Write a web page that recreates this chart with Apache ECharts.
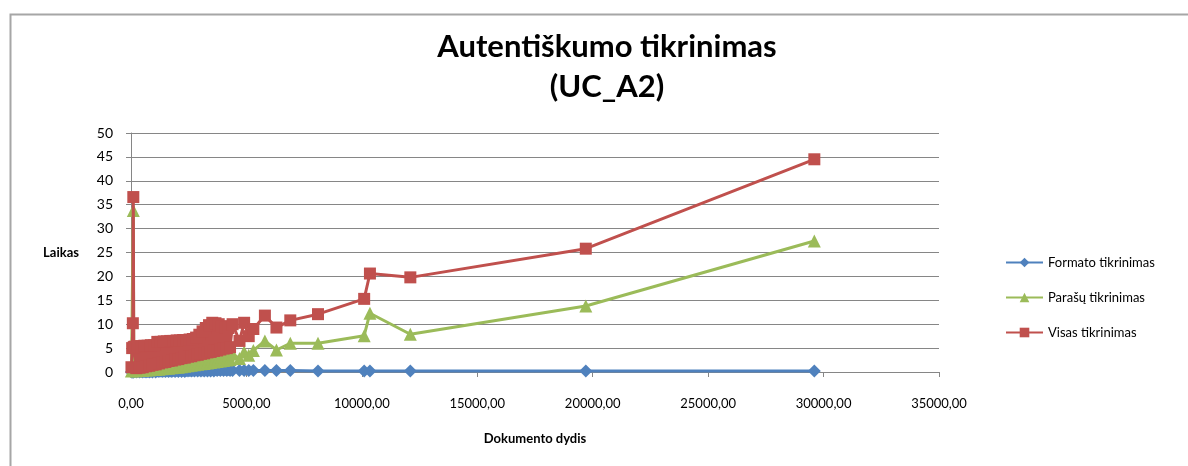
<!DOCTYPE html>
<html>
<head>
<meta charset="utf-8">
<script src="https://cdn.jsdelivr.net/npm/echarts@6/dist/echarts.min.js"></script>
<style>
html,body{margin:0;padding:0;background:#fff;}
#chart{width:1188px;height:466px;}
</style>
</head>
<body>
<div id="chart"></div>
<script>
// Document size (x)
const sizes = [20, 50, 80, 100, 120,
  160, 230, 300, 370, 440, 510, 580, 650, 720, 790, 860, 930, 1000, 1070, 1140, 1210, 1280, 1350, 1420, 1490,
  1560, 1630, 1700, 1770, 1840, 1910, 1980, 2050, 2120, 2190, 2260, 2330, 2400, 2470, 2540, 2610, 2680, 2750,
  2820, 2890, 2960, 3030, 3100, 3170, 3240, 3310, 3380, 3450, 3520, 3590, 3660, 3730, 3800, 3870, 3940, 4010,
  4080, 4150, 4220, 4290,
  4400, 4700, 4900, 5100, 5300, 5800, 6300, 6900, 8100, 10100, 10350, 12100, 19700, 29600];
// Formato tikrinimas
const formato = [0.0, 0.0, 0.0, 0.0, 0.0,
  0.1, 0.0, 0.1, 0.0, 0.1, 0.0, 0.1, 0.0, 0.1, 0.0, 0.1, 0.0, 0.2, 0.0, 0.2, 0.1, 0.2, 0.1, 0.2, 0.1,
  0.2, 0.1, 0.2, 0.1, 0.3, 0.1, 0.3, 0.1, 0.3, 0.1, 0.3, 0.1, 0.3, 0.2, 0.3, 0.2, 0.3, 0.2,
  0.4, 0.2, 0.4, 0.2, 0.4, 0.2, 0.4, 0.2, 0.4, 0.2, 0.5, 0.2, 0.5, 0.3, 0.5, 0.3, 0.5, 0.3,
  0.5, 0.3, 0.5, 0.3,
  0.3, 0.3, 0.3, 0.3, 0.3, 0.3, 0.3, 0.3, 0.2, 0.2, 0.2, 0.2, 0.2, 0.2];
// Parašų tikrinimas
const parasu = [0.2, 0.3, 0.3, 33.8, 0.4,
  0.5, 0.2, 0.6, 0.3, 0.6, 0.3, 0.7, 0.4, 0.8, 0.4, 0.9, 0.5, 1.0, 0.5, 1.1, 0.6, 1.2, 0.7, 1.3, 0.8,
  1.4, 0.8, 1.5, 0.9, 1.6, 1.0, 1.7, 1.0, 1.8, 1.1, 1.9, 1.2, 2.0, 1.3, 2.1, 1.4, 2.2, 1.5,
  2.3, 1.6, 2.4, 1.7, 2.5, 1.8, 2.6, 1.9, 2.7, 2.0, 2.8, 2.1, 2.9, 2.2, 3.0, 2.3, 3.2, 2.4,
  3.4, 2.5, 3.6, 2.6,
  3.8, 2.8, 4.2, 3.5, 4.5, 6.5, 4.6, 6.0, 6.0, 7.6, 12.3, 7.9, 13.8, 27.4];
// Visas tikrinimas
const visas = [1.0, 5.0, 10.2, 36.6, 5.2,
  5.3, 0.8, 5.4, 0.9, 5.4, 1.0, 5.5, 1.2, 5.5, 1.3, 5.6, 1.5, 5.6, 1.6, 6.3, 1.8, 6.3, 2.0, 6.4, 2.1,
  6.4, 2.3, 6.5, 2.4, 6.5, 2.6, 6.6, 2.7, 6.6, 2.9, 6.7, 3.0, 6.7, 3.2, 6.8, 3.3, 6.9, 3.5,
  7.2, 3.6, 7.8, 3.8, 8.5, 3.9, 9.2, 4.1, 9.8, 4.2, 10.3, 4.4, 10.2, 4.5, 10.0, 4.7, 9.6, 4.9,
  9.4, 5.0, 9.2, 5.2,
  10.0, 6.5, 10.3, 7.5, 9.0, 11.8, 9.3, 10.8, 12.1, 15.3, 20.6, 19.8, 25.8, 44.5];

const seriesNames = ['Formato tikrinimas', 'Parašų tikrinimas', 'Visas tikrinimas'];
const colors = ['#4F81BD', '#9BBB59', '#C0504D'];
const symbols = ['diamond', 'triangle', 'rect'];
const values = [formato, parasu, visas];

const FONT = 'Lato, "Open Sans", sans-serif';
const chart = echarts.init(document.getElementById('chart'), null, {renderer: 'canvas'});

chart.setOption({
  backgroundColor: '#ffffff',
  animation: false,
  color: colors,
  title: {
    text: 'Autentiškumo tikrinimas\n(UC_A2)',
    left: 602,
    top: 22,
    textAlign: 'center',
    textStyle: {fontFamily: FONT, fontSize: 31, fontWeight: 'bold', color: '#000', lineHeight: 40}
  },
  graphic: [{
    type: 'rect', left: 8, top: 12, silent: true,
    shape: {width: 1200, height: 500},
    style: {fill: 'none', stroke: '#a6a6a6', lineWidth: 2}
  }],
  legend: {
    orient: 'vertical',
    left: 1000,
    top: 251,
    itemWidth: 37,
    itemHeight: 12,
    itemGap: 22,
    textStyle: {fontFamily: FONT, fontSize: 13, color: '#000'},
    data: seriesNames
  },
  grid: {left: 131, top: 133, width: 808, height: 239, containLabel: false},
  xAxis: {
    type: 'value', min: 0, max: 35000, interval: 5000,
    name: 'Dokumento dydis', nameLocation: 'middle', nameGap: 60,
    nameTextStyle: {fontFamily: FONT, fontSize: 13, fontWeight: 'bold', color: '#000'},
    axisLine: {show: true, lineStyle: {color: '#868686', width: 1}},
    axisTick: {show: true, length: 5, lineStyle: {color: '#868686'}},
    splitLine: {show: false},
    axisLabel: {margin: 25, fontFamily: FONT, fontSize: 13, color: '#000',
      formatter: v => v.toFixed(2).replace('.', ',')}
  },
  yAxis: {
    type: 'value', min: 0, max: 50, interval: 5,
    name: 'Laikas', nameLocation: 'middle', nameRotate: 0, nameGap: 52,
    nameTextStyle: {fontFamily: FONT, fontSize: 13, fontWeight: 'bold', color: '#000'},
    axisLine: {show: true, lineStyle: {color: '#868686', width: 1}},
    axisTick: {show: true, length: 5, lineStyle: {color: '#868686'}},
    splitLine: {show: true, lineStyle: {color: '#868686', width: 1}},
    axisLabel: {margin: 18, fontFamily: FONT, fontSize: 14, color: '#000'}
  },
  series: seriesNames.map((name, k) => ({
    name: name,
    type: 'line',
    data: sizes.map((x, i) => [x, values[k][i]]),
    symbol: symbols[k],
    symbolSize: k === 2 ? 12 : 13,
    showAllSymbol: true,
    lineStyle: {width: 3, color: colors[k]},
    itemStyle: {color: colors[k]},
    z: 2 + k
  }))
});
</script>
</body>
</html>
